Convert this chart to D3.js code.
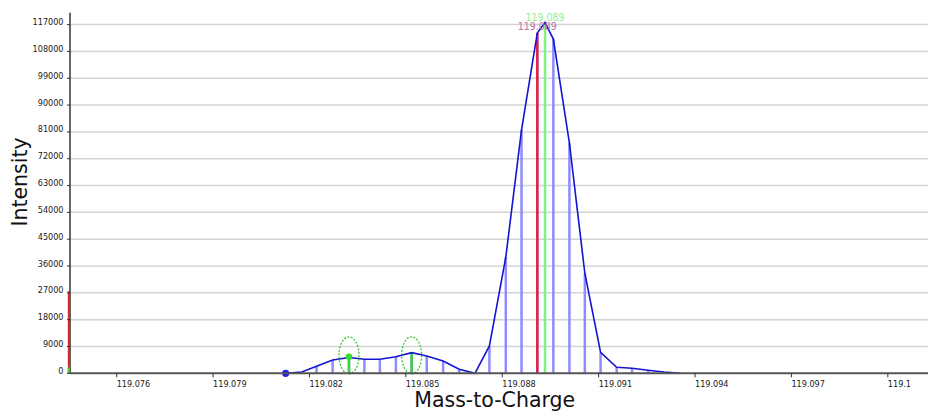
<!DOCTYPE html>
<html>
<head>
<meta charset="utf-8">
<script src="https://cdn.jsdelivr.net/npm/d3@7"></script>
<style>
  html, body { margin: 0; padding: 0; background: #fff; }
  svg { display: block; }
</style>
</head>
<body>
<svg id="chart" width="929" height="411"></svg>
<script>
// ---- data ----
const profileMz = [119.08126, 119.08176, 119.08222, 119.08272, 119.08323, 119.08371, 119.08419, 119.08469,
  119.08518, 119.08565, 119.08616, 119.08666, 119.08715, 119.08760, 119.08811, 119.08860, 119.08909,
  119.08959, 119.09009, 119.09057, 119.09106, 119.09156, 119.09204, 119.09254, 119.09303, 119.09353];
const profileIntensity = [0, 450, 2400, 4470, 5300, 4700, 4700, 5570,
  6920, 5800, 4130, 1340, 0, 9170, 38950, 81700, 114170,
  112160, 77230, 33580, 7000, 2010, 1680, 1000, 440, 0];
const apexMz = 119.08933;
const apexIntensity = 117700;
const centroidMz = 119.08909;
const centroidIntensity = 114170;
const apexLabel = "119.089";
const centroidLabel = "119.089";
const markedMz = [119.08323, 119.08518];          // green-circled peaks
const markedIntensity = [5400, 6920];
const markedDotMz = 119.08323;
const markedDotIntensity = 5550;
const startDotMz = 119.08126;
const edgeMz = 119.07451;
const edgeIntensity = 27600;
const edgeGreenIntensity = 2000;
const yTicks = [0, 9000, 18000, 27000, 36000, 45000, 54000, 63000, 72000, 81000, 90000, 99000, 108000, 117000];
const xTicks = [119.076, 119.079, 119.082, 119.085, 119.088, 119.091, 119.094, 119.097, 119.1];
const xTickLabels = ["119.076", "119.079", "119.082", "119.085", "119.088", "119.091", "119.094", "119.097", "119.1"];
const xTitle = "Mass-to-Charge";
const yTitle = "Intensity";

// ---- layout ----
const padL = 70, padR = 928, padT = 12.7, padB = 373.3;
const svg = d3.select("#chart");
const x = d3.scaleLinear().domain([119.074547, 119.10125]).range([padL, padR]);
const y = d3.scaleLinear().domain([0, 121000]).range([padB, padT]);
const tickFont = "'DejaVu Sans Condensed', 'DejaVu Sans', sans-serif";

// grid
svg.append("g").selectAll("line").data(yTicks.filter(d => d > 0)).join("line")
  .attr("x1", padL).attr("x2", padR)
  .attr("y1", d => y(d)).attr("y2", d => y(d))
  .attr("stroke", "#d4d4d4").attr("stroke-width", 1.5);

// profile sticks
const pts = profileMz.map((m, i) => ({ mz: m, v: profileIntensity[i] }));
svg.append("g").selectAll("line").data(pts.slice(1)).join("line")
  .attr("x1", d => x(d.mz)).attr("x2", d => x(d.mz))
  .attr("y1", y(0)).attr("y2", d => y(d.v))
  .attr("stroke", "#8c8cff").attr("stroke-width", 2.5);

// marked green sticks
svg.append("g").selectAll("line").data(markedMz.map((m, i) => ({ mz: m, v: markedIntensity[i] }))).join("line")
  .attr("x1", d => x(d.mz)).attr("x2", d => x(d.mz))
  .attr("y1", y(0)).attr("y2", d => y(d.v))
  .attr("stroke", "#3ad43a").attr("stroke-width", 2.5);

// centroid (red) and apex (green)
svg.append("line").attr("x1", x(centroidMz)).attr("x2", x(centroidMz))
  .attr("y1", y(0)).attr("y2", y(centroidIntensity))
  .attr("stroke", "#e8203c").attr("stroke-width", 2.5);
svg.append("line").attr("x1", x(apexMz)).attr("x2", x(apexMz))
  .attr("y1", y(0)).attr("y2", y(apexIntensity))
  .attr("stroke", "#7ef27e").attr("stroke-width", 2.5);

// profile line (with apex)
const linePts = pts.concat([{ mz: apexMz, v: apexIntensity }]).sort((a, b) => a.mz - b.mz);
svg.append("path").datum(linePts)
  .attr("d", d3.line().x(d => x(d.mz)).y(d => y(d.v)))
  .attr("fill", "none").attr("stroke", "#1414d2").attr("stroke-width", 1.6);

// ellipses
svg.append("g").selectAll("ellipse").data(markedMz.map((m, i) => ({ mz: m, v: markedIntensity[i] }))).join("ellipse")
  .attr("cx", d => x(d.mz)).attr("cy", y(0) - 18)
  .attr("rx", 10).attr("ry", 18.5)
  .attr("fill", "none").attr("stroke", "#33c433").attr("stroke-width", 1.3)
  .attr("stroke-dasharray", "2,1.5");

// dots
svg.append("circle").attr("cx", x(markedDotMz)).attr("cy", y(markedDotIntensity)).attr("r", 3.3).attr("fill", "#33dd33");
svg.append("circle").attr("cx", x(startDotMz)).attr("cy", y(0)).attr("r", 3.6).attr("fill", "#2020ee");

// axes
svg.append("line").attr("x1", padL).attr("x2", padL).attr("y1", padT).attr("y2", padB)
  .attr("stroke", "#333").attr("stroke-width", 1.5);
svg.append("line").attr("x1", padL).attr("x2", padR).attr("y1", padB).attr("y2", padB)
  .attr("stroke", "#555").attr("stroke-width", 2);

// left edge marker (drawn over the axis)
svg.append("line").attr("x1", x(edgeMz)).attr("x2", x(edgeMz))
  .attr("y1", y(0)).attr("y2", y(edgeIntensity))
  .attr("stroke", "#d82828").attr("stroke-width", 2);
svg.append("line").attr("x1", x(edgeMz)).attr("x2", x(edgeMz))
  .attr("y1", y(0)).attr("y2", y(edgeGreenIntensity))
  .attr("stroke", "#44cc22").attr("stroke-width", 2);

const yg = svg.append("g");
yg.selectAll("line").data(yTicks).join("line")
  .attr("x1", padL - 3).attr("x2", padL).attr("y1", d => y(d)).attr("y2", d => y(d))
  .attr("stroke", "#333").attr("stroke-width", 1);
yg.selectAll("text").data(yTicks).join("text")
  .attr("x", padL - 6.5).attr("y", d => y(d) + 0.5)
  .attr("text-anchor", "end")
  .attr("font-family", tickFont).attr("font-size", 9).attr("fill", "#1a1a1a")
  .text(d => String(d));

const xg = svg.append("g");
xg.selectAll("line").data(xTicks).join("line")
  .attr("x1", d => x(d)).attr("x2", d => x(d)).attr("y1", padB).attr("y2", padB + 4)
  .attr("stroke", "#333").attr("stroke-width", 1);
xg.selectAll("text").data(xTicks).join("text")
  .attr("x", d => x(d)).attr("y", padB + 14)
  .attr("text-anchor", "start")
  .attr("font-family", tickFont).attr("font-size", 9).attr("fill", "#1a1a1a")
  .text((d, i) => xTickLabels[i]);

// peak labels
svg.append("text").attr("x", x(centroidMz)).attr("y", 29.5).attr("text-anchor", "middle")
  .attr("font-family", tickFont).attr("font-size", 10.5).attr("fill", "#b873a8")
  .text(centroidLabel);
svg.append("text").attr("x", x(apexMz)).attr("y", 20.5).attr("text-anchor", "middle")
  .attr("font-family", tickFont).attr("font-size", 10.5).attr("fill", "#98ec98")
  .text(apexLabel);

// titles
svg.append("text").attr("x", 494.7).attr("y", 406.5).attr("text-anchor", "middle")
  .attr("font-family", "'DejaVu Sans', sans-serif").attr("font-size", 20.5).attr("fill", "#111")
  .text(xTitle);
svg.append("text").attr("transform", "translate(27,182) rotate(-90)").attr("text-anchor", "middle")
  .attr("font-family", "'DejaVu Sans', sans-serif").attr("font-size", 20.5).attr("fill", "#111")
  .text(yTitle);
</script>
</body>
</html>
